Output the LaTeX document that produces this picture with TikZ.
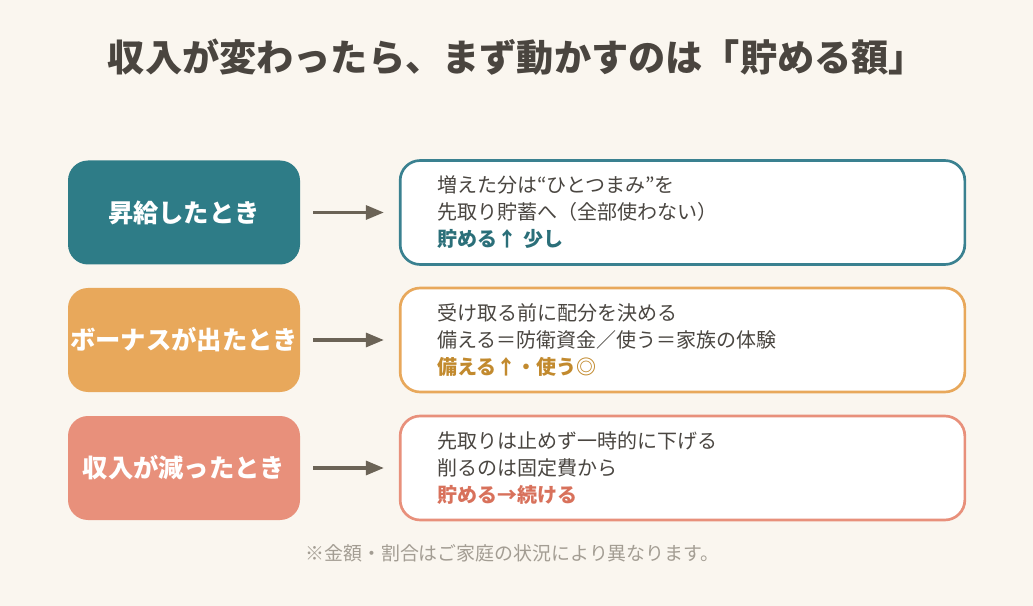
\documentclass[tikz,border=0pt]{standalone}
\usepackage{fontspec}
\setmainfont{Noto Sans CJK JP}
\usetikzlibrary{arrows.meta,positioning}
\definecolor{bgcream}{HTML}{FAF6EF}
\definecolor{titlegray}{HTML}{4A453F}
\definecolor{textgray}{HTML}{4A4641}
\definecolor{footgray}{HTML}{A39D93}
\definecolor{arrowgray}{HTML}{6B6356}
\definecolor{tealfill}{HTML}{2E7C87}
\definecolor{tealline}{HTML}{3A8190}
\definecolor{tealtext}{HTML}{2B6F79}
\definecolor{orangefill}{HTML}{E8A85B}
\definecolor{orangetext}{HTML}{C28A2E}
\definecolor{salmonfill}{HTML}{E8907B}
\definecolor{salmontext}{HTML}{D8715B}

\begin{document}
\begin{tikzpicture}[x=0.75pt,y=-0.75pt,>={Triangle[length=13.5pt,width=10.5pt]},
  lbox/.style={rounded corners=15pt,minimum width=174pt,minimum height=78pt,inner sep=0pt,text=white,font=\fontsize{19pt}{23pt}\selectfont\bfseries},
  rbox/.style={draw,fill=white,line width=2pt,rounded corners=15pt,minimum height=78pt,text width=368pt,inner xsep=27.75pt,inner ysep=0pt,align=left,text=textgray,font=\fontsize{15pt}{20.25pt}\selectfont},
  link/.style={->,line width=2.4pt,draw=arrowgray,shorten <=9.75pt,shorten >=11.25pt}]
  \fill[bgcream] (0,0) rectangle (1033,606);
  \node[text=titlegray,font=\fontsize{27.9pt}{32pt}\selectfont\bfseries] (title) at (517,57) {収入が変わったら、まず動かすのは「貯める額」};
  % 昇給
  \node[lbox,fill=tealfill] (raise) at (184,212.5) {昇給したとき};
  \node[rbox,draw=tealline] (raisenote) at (682.5,212.5) {増えた分は“ひとつまみ”を\\先取り貯蓄へ（全部使わない）\\{\bfseries\color{tealtext}貯める↑ 少し}};
  \draw[link] (raise) -- (raisenote);
  % ボーナス
  \node[lbox,fill=orangefill] (bonus) at (184,340) {ボーナスが出たとき};
  \node[rbox,draw=orangefill] (bonusnote) at (682.5,340) {受け取る前に配分を決める\\備える＝防衛資金／使う＝家族の体験\\{\bfseries\color{orangetext}備える↑・使う◎}};
  \draw[link] (bonus) -- (bonusnote);
  % 減収
  \node[lbox,fill=salmonfill] (drop) at (184,468) {収入が減ったとき};
  \node[rbox,draw=salmonfill] (dropnote) at (682.5,468) {先取りは止めず一時的に下げる\\削るのは固定費から\\{\bfseries\color{salmontext}貯める→続ける}};
  \draw[link] (drop) -- (dropnote);
  \node[text=footgray,font=\fontsize{14.2pt}{17pt}\selectfont] (foot) at (512.5,553) {※金額・割合はご家庭の状況により異なります。};
\end{tikzpicture}
\end{document}
